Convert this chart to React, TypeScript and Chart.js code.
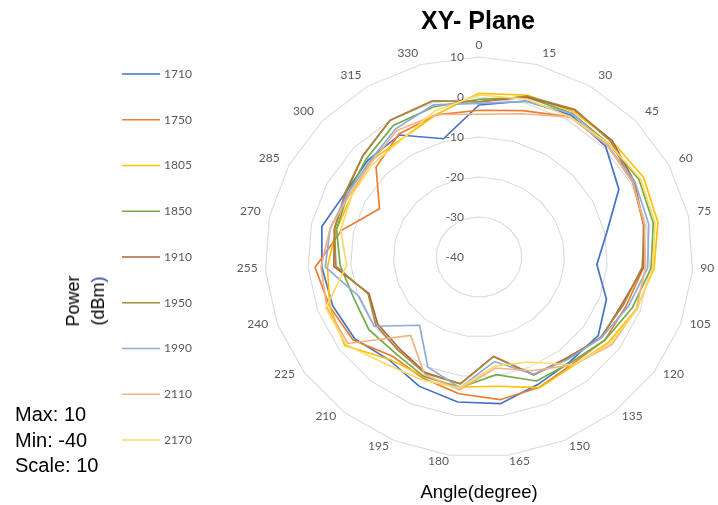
import React, { useEffect, useRef } from 'react';
import { Chart, registerables } from 'chart.js';

Chart.register(...registerables);

const angleLabels = ['0', '15', '30', '45', '60', '75', '90', '105', '120', '135', '150', '165', '180', '195', '210', '225', '240', '255', '270', '285', '300', '315', '330'];
const radialTicks = [10, 0, -10, -20, -30, -40];
const seriesNames = ['1710', '1750', '1805', '1850', '1910', '1950', '1990', '2110', '2170'];
const seriesColors = ['#4472C4', '#ED7D31', '#FFC000', '#70AD47', '#B0603C', '#A8893E', '#8FAADC', '#F4B183', '#FFD966'];

const s1710 = [-2, 0.5, 1.5, 0.5, -3.2, -9.5, -12.4, -8.4, -5.9, -6.3, -5.3, -3, -3.4, -4.8, -6.8, -4.5, -3.7, -3.2, -2.5, -4.9, -4.5, -4.3, -9.3];
const s1750 = [-3.3, -2, 1, 1, 0.5, -0.7, -1.5, -3.5, -4, -5.5, -4.5, -4, -5.5, -7, -8, -4, -3, -1.6, -7.2, -13.8, -7.1, -4, -3.1];
const s1805 = [0.9, 2, 2.5, 2.5, 3.3, 2.7, 1, -1, -3, -5, -4.4, -7.4, -7.2, -7.5, -7, -1.6, -3, -4.5, -6, -6.5, -5, -5.4, -3];
const s1850 = [-0.6, 1.5, 2, 1.5, 2.1, 1.6, 0.3, -2, -4, -6, -6.2, -10.3, -7, -7.5, -9, -8.5, -9, -7.5, -6, -5.5, -4, -1.5, -1];
const s1910 = [-1.2, 1.5, 3, 2.6, 0.9, -0.7, -1.5, -4.6, -5, -7.5, -7.9, -14.9, -8, -8.5, -10.5, -11, -12.7, -6, -5.5, -5, -2.9, 0, 0.5];
const s1950 = [-1.2, 1.8, 3.2, 2.2, 0.5, -0.5, -1.8, -4.2, -5.2, -7.2, -7.9, -14.9, -8, -8.3, -10, -10.5, -12.5, -6.5, -5.5, -4.8, -2.9, 0, 0.5];
const s1990 = [-1.6, 0.4, 2, 1, 1, 0.5, -0.5, -3, -5, -7, -8, -13.6, -7, -10, -18, -10, -10.3, -4, -4.5, -5.5, -5, -2.5, -0.5];
const s2110 = [-4.3, -2.8, 1, 1, 0.5, -0.5, -1, -1, -2, -5.2, -9, -12, -6.5, -8, -14.7, -2.5, -2.3, -3, -4.5, -6, -5.5, -3, -3];
const s2170 = [0.5, 1, 1, 1.5, 2.5, 2, 0.7, -0.8, -2.5, -5.2, -11.4, -12.5, -7, -6.5, -5.5, -2, -2, -9, -7, -6.5, -6, -5.5, -2];

const seriesValues = [s1710, s1750, s1805, s1850, s1910, s1950, s1990, s2110, s2170];

const LABEL_FONT = '12px Lato, "Open Sans", sans-serif';
const LABEL_COLOR = '#595959';
const STRETCH_X = 1.07;

const decorPlugin = {
  id: 'decor',
  beforeDraw(chart: any) {
    const ctx = chart.ctx;
    const scale = chart.scales.r;
    chart.$baseTransform = ctx.getTransform();
    ctx.save();
    ctx.translate(scale.xCenter, 0);
    ctx.scale(STRETCH_X, 1);
    ctx.translate(-scale.xCenter, 0);
  },
  beforeDatasetsDraw(chart: any) {
    const scale = chart.scales.r;
    const ctx = chart.ctx;
    ctx.save();
    ctx.setTransform(chart.$baseTransform);
    ctx.font = LABEL_FONT;
    ctx.fillStyle = LABEL_COLOR;
    // radial tick labels, left of the vertical axis
    ctx.textAlign = 'right';
    ctx.textBaseline = 'middle';
    radialTicks.forEach((v) => {
      const d = scale.getDistanceFromCenterForValue(v);
      ctx.fillText(String(v), scale.xCenter - 15, scale.yCenter - d);
    });
    // point labels around the outside
    ctx.textAlign = 'center';
    const R = scale.drawingArea + 3;
    const n = angleLabels.length;
    angleLabels.forEach((lab, i) => {
      const a = (i * 2 * Math.PI) / n;
      const s = Math.sin(a);
      const c = Math.cos(a);
      const w = ctx.measureText(lab).width;
      const h = 12;
      const side = Math.abs(s) < 0.01 ? 0 : Math.sign(s);
      const cx = scale.xCenter + STRETCH_X * s * R + s * (w / 2 + 4) + side * Math.abs(c) * 9;
      const cy = scale.yCenter - c * R - c * (h / 2) - 3;
      ctx.fillText(lab, cx, cy);
    });
    // legend
    ctx.textAlign = 'left';
    chart.data.datasets.forEach((ds: any, i: number) => {
      const y = 74 + i * 45.75;
      ctx.strokeStyle = ds.borderColor;
      ctx.lineWidth = 1.5;
      ctx.beginPath();
      ctx.moveTo(122, y);
      ctx.lineTo(160, y);
      ctx.stroke();
      ctx.fillStyle = LABEL_COLOR;
      ctx.fillText(ds.label, 164, y);
    });
    ctx.restore();
  },
  afterDraw(chart: any) {
    chart.ctx.restore();
  },
};

export default function App() {
  const canvasRef = useRef<HTMLCanvasElement | null>(null);

  useEffect(() => {
    if (!canvasRef.current) return;
    const chart = new Chart(canvasRef.current, {
      type: 'radar',
      data: {
        labels: angleLabels,
        datasets: seriesNames.map((name, i) => ({
          label: name,
          data: seriesValues[i],
          borderColor: seriesColors[i],
          backgroundColor: seriesColors[i],
          borderWidth: 1.6,
          pointRadius: 0,
          pointHoverRadius: 0,
          fill: false,
          tension: 0,
          order: seriesNames.length - i,
        })),
      },
      options: {
        responsive: false,
        animation: false,
        layout: { padding: { left: 279, right: 39, top: 57, bottom: 48 } },
        plugins: {
          legend: { display: false },
          tooltip: { enabled: false },
        },
        scales: {
          r: {
            min: -40,
            max: 10,
            startAngle: 0,
            ticks: { stepSize: 10, display: false },
            grid: { color: '#dadada', lineWidth: 1, circular: false },
            angleLines: { display: false },
            pointLabels: { display: false },
          },
        },
      },
      plugins: [decorPlugin],
    });
    return () => chart.destroy();
  }, []);

  const sans = '"Liberation Sans", Arial, sans-serif';

  return (
    <div style={{ position: 'fixed', left: 0, top: 0, width: 718, height: 505, background: '#fff', overflow: 'hidden' }}>
      <canvas ref={canvasRef} width={718} height={505} style={{ position: 'absolute', left: 0, top: 0, display: 'block' }} />
      <div style={{ position: 'absolute', left: 478, top: 20, transform: 'translate(-50%, -50%)', fontFamily: sans, fontWeight: 'bold', fontSize: 25, color: '#000', whiteSpace: 'nowrap' }}>
        XY- Plane
      </div>
      <div style={{ position: 'absolute', left: 479, top: 492, transform: 'translate(-50%, -50%)', fontFamily: sans, fontSize: 18.5, color: '#000', whiteSpace: 'nowrap' }}>
        Angle(degree)
      </div>
      <div style={{ position: 'absolute', left: 86, top: 301, transform: 'translate(-50%, -50%) rotate(-90deg)', fontFamily: sans, fontSize: 18, lineHeight: '25px', color: '#000', textAlign: 'center', whiteSpace: 'nowrap' }}>
        Power<br />(dBm<span style={{ color: '#1F3F99' }}>)</span>
      </div>
      <div style={{ position: 'absolute', left: 15, top: 402, fontFamily: sans, fontSize: 20, lineHeight: '25.5px', color: '#000', whiteSpace: 'nowrap' }}>
        Max: 10<br />Min: -40<br />Scale: 10
      </div>
    </div>
  );
}
